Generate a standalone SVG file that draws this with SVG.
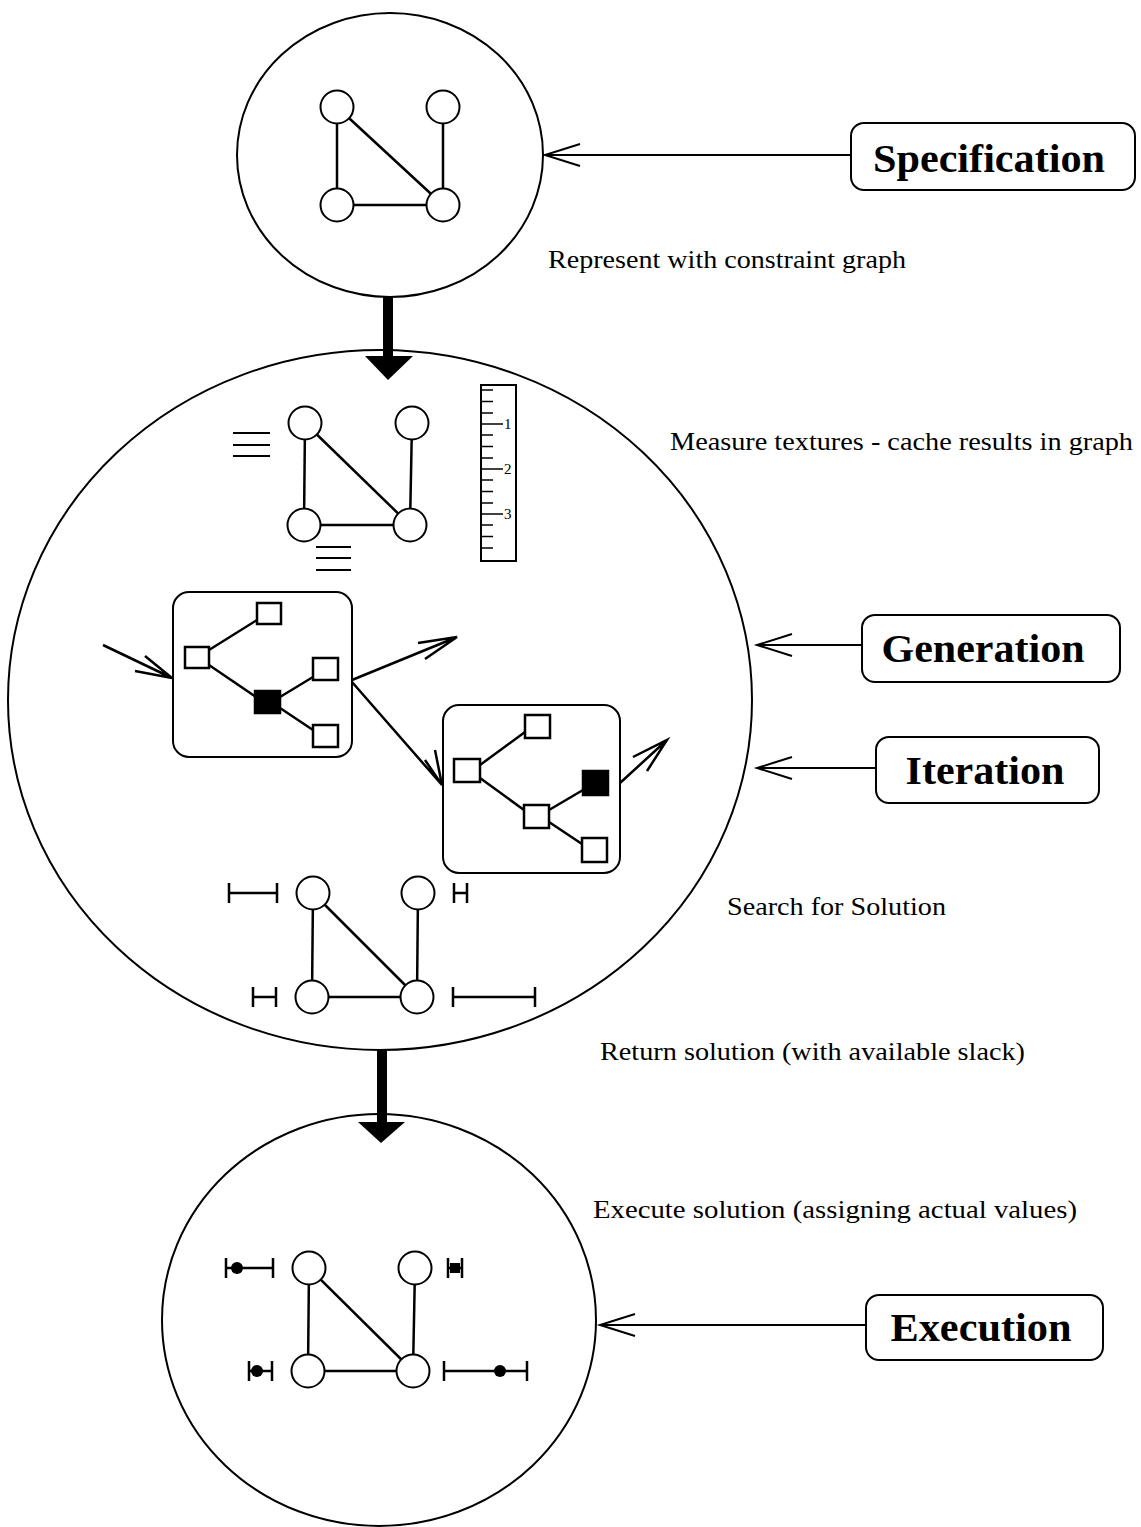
<svg xmlns="http://www.w3.org/2000/svg" width="1141" height="1527" viewBox="0 0 1141 1527">
<style>
.stroke{fill:none;stroke:#000;stroke-width:2}
.node{fill:#fff;stroke:#000;stroke-width:2}
.sq{fill:#fff;stroke:#000;stroke-width:2.5}
.fsq{fill:#000;stroke:#000;stroke-width:2.5}
.edge{stroke:#000;stroke-width:2.5;fill:none}
.lbl{font-family:"Liberation Serif","Times New Roman",serif;font-size:26px;fill:#000}
.big{font-family:"Liberation Serif","Times New Roman",serif;font-size:41px;font-weight:bold;fill:#000}
.box{fill:#fff;stroke:#000;stroke-width:2}
.bar{stroke:#000;stroke-width:2.5;fill:none}
.tick{stroke:#000;stroke-width:1.5}
</style>
<rect width="1141" height="1527" fill="#fff"/>

<!-- big stage circles -->
<g id="stage-spec"><ellipse class="stroke" cx="390" cy="155" rx="153" ry="142"/></g>
<g id="stage-search"><ellipse class="stroke" cx="380" cy="700" rx="372" ry="350"/></g>
<g id="stage-exec"><ellipse class="stroke" cx="379" cy="1320" rx="217" ry="206"/></g>

<!-- top constraint graph -->
<g id="graph-spec">
<line class="edge" x1="337" y1="107" x2="337" y2="205"/>
<line class="edge" x1="337" y1="107" x2="443" y2="205"/>
<line class="edge" x1="443" y1="107" x2="443" y2="205"/>
<line class="edge" x1="337" y1="205" x2="443" y2="205"/>
<circle class="node" cx="337" cy="107" r="16.5"/>
<circle class="node" cx="443" cy="107" r="16.5"/>
<circle class="node" cx="337" cy="205" r="16.5"/>
<circle class="node" cx="443" cy="205" r="16.5"/>
</g>

<!-- texture graph -->
<g id="graph-texture">
<line class="edge" x1="305" y1="423" x2="304" y2="525"/>
<line class="edge" x1="305" y1="423" x2="410" y2="525"/>
<line class="edge" x1="412" y1="423" x2="410" y2="525"/>
<line class="edge" x1="304" y1="525" x2="410" y2="525"/>
<circle class="node" cx="305" cy="423" r="16.5"/>
<circle class="node" cx="412" cy="423" r="16.5"/>
<circle class="node" cx="304" cy="525" r="16.5"/>
<circle class="node" cx="410" cy="525" r="16.5"/>
<g stroke="#000" stroke-width="2">
<line x1="233" y1="433" x2="270" y2="433"/>
<line x1="233" y1="445" x2="270" y2="445"/>
<line x1="233" y1="456" x2="270" y2="456"/>
<line x1="316" y1="547" x2="351" y2="547"/>
<line x1="316" y1="558" x2="351" y2="558"/>
<line x1="316" y1="570" x2="351" y2="570"/>
</g>
</g>

<!-- ruler -->
<g id="ruler">
<rect x="481" y="385" width="35" height="176" fill="#fff" stroke="#000" stroke-width="2"/>
<g class="tick">
<line x1="481" y1="390" x2="493" y2="390"/>
<line x1="481" y1="401.5" x2="493" y2="401.5"/>
<line x1="481" y1="413" x2="493" y2="413"/>
<line x1="481" y1="424" x2="503" y2="424"/>
<line x1="481" y1="435" x2="493" y2="435"/>
<line x1="481" y1="446.5" x2="493" y2="446.5"/>
<line x1="481" y1="458" x2="493" y2="458"/>
<line x1="481" y1="469" x2="503" y2="469"/>
<line x1="481" y1="480" x2="493" y2="480"/>
<line x1="481" y1="491.5" x2="493" y2="491.5"/>
<line x1="481" y1="503" x2="493" y2="503"/>
<line x1="481" y1="514" x2="503" y2="514"/>
<line x1="481" y1="525" x2="493" y2="525"/>
<line x1="481" y1="536.5" x2="493" y2="536.5"/>
<line x1="481" y1="548" x2="493" y2="548"/>
</g>
<g font-family="Liberation Serif, serif" font-size="15" fill="#000">
<text x="504" y="429">1</text>
<text x="504" y="474">2</text>
<text x="504" y="519">3</text>
</g>
</g>

<!-- generation box 1 -->
<g id="search-tree-1">
<rect class="box" x="173" y="592" width="179" height="165" rx="16"/>
<line class="edge" x1="209" y1="650" x2="257" y2="620"/>
<line class="edge" x1="209" y1="665" x2="256" y2="697"/>
<line class="edge" x1="280" y1="697" x2="313" y2="677"/>
<line class="edge" x1="280" y1="708" x2="313" y2="730"/>
<rect class="sq" x="257" y="603" width="24" height="21"/>
<rect class="sq" x="185" y="647" width="24" height="21"/>
<rect class="sq" x="313" y="658" width="25" height="22"/>
<rect class="fsq" x="255" y="691" width="25" height="22"/>
<rect class="sq" x="313" y="725" width="25" height="22"/>
</g>

<!-- generation box 2 -->
<g id="search-tree-2">
<rect class="box" x="443" y="705" width="177" height="168" rx="16"/>
<line class="edge" x1="480" y1="765" x2="525" y2="732"/>
<line class="edge" x1="480" y1="778" x2="524" y2="810"/>
<line class="edge" x1="549" y1="810" x2="583" y2="790"/>
<line class="edge" x1="549" y1="822" x2="582" y2="844"/>
<rect class="sq" x="525" y="715" width="25" height="23"/>
<rect class="sq" x="454" y="759" width="26" height="23"/>
<rect class="fsq" x="583" y="771" width="25" height="24"/>
<rect class="sq" x="524" y="805" width="25" height="23"/>
<rect class="sq" x="582" y="838" width="25" height="24"/>
</g>

<!-- solution graph -->
<g id="graph-solution">
<line class="edge" x1="313" y1="893" x2="312" y2="997"/>
<line class="edge" x1="313" y1="893" x2="417" y2="997"/>
<line class="edge" x1="418" y1="893" x2="417" y2="997"/>
<line class="edge" x1="312" y1="997" x2="417" y2="997"/>
<circle class="node" cx="313" cy="893" r="16.5"/>
<circle class="node" cx="418" cy="893" r="16.5"/>
<circle class="node" cx="312" cy="997" r="16.5"/>
<circle class="node" cx="417" cy="997" r="16.5"/>
<path class="bar" d="M229 883V903M229 893H277M277 883V903"/>
<path class="bar" d="M454 883V903M454 893H467M467 883V903"/>
<path class="bar" d="M253 987V1007M253 997H276M276 987V1007"/>
<path class="bar" d="M453 987V1007M453 997H535M535 987V1007"/>
</g>

<!-- execution graph -->
<g id="graph-execution">
<line class="edge" x1="309" y1="1268" x2="308" y2="1371"/>
<line class="edge" x1="309" y1="1268" x2="413" y2="1371"/>
<line class="edge" x1="415" y1="1268" x2="413" y2="1371"/>
<line class="edge" x1="308" y1="1371" x2="413" y2="1371"/>
<circle class="node" cx="309" cy="1268" r="16.5"/>
<circle class="node" cx="415" cy="1268" r="16.5"/>
<circle class="node" cx="308" cy="1371" r="16.5"/>
<circle class="node" cx="413" cy="1371" r="16.5"/>
<path class="bar" d="M226 1258V1278M226 1268H273M273 1258V1278"/>
<circle cx="237" cy="1268" r="6"/>
<path class="bar" d="M448 1258V1278M448 1268H462M462 1258V1278"/>
<rect x="450" y="1263" width="10" height="10"/>
<path class="bar" d="M249 1361V1381M249 1371H272M272 1361V1381"/>
<circle cx="257" cy="1371" r="6"/>
<path class="bar" d="M444 1361V1381M444 1371H527M527 1361V1381"/>
<circle cx="500" cy="1371" r="6"/>
</g>

<!-- label boxes -->
<g id="spec"><rect class="box" x="851" y="123" width="284" height="67" rx="13"/><text class="big" x="989" y="172" text-anchor="middle" textLength="232" lengthAdjust="spacingAndGlyphs">Specification</text></g>
<g id="generation"><rect class="box" x="862" y="615" width="258" height="67" rx="13"/><text class="big" x="983" y="662" text-anchor="middle" textLength="203" lengthAdjust="spacingAndGlyphs">Generation</text></g>
<g id="iteration"><rect class="box" x="876" y="737" width="223" height="66" rx="13"/><text class="big" x="985" y="784" text-anchor="middle" textLength="159" lengthAdjust="spacingAndGlyphs">Iteration</text></g>
<g id="execution"><rect class="box" x="866" y="1295" width="237" height="65" rx="13"/><text class="big" x="981" y="1341" text-anchor="middle" textLength="181" lengthAdjust="spacingAndGlyphs">Execution</text></g>

<!-- connectors -->
<g id="connectors" fill="none" stroke="#000" stroke-width="2">
<path d="M851 155H545M580 144L545 155L580 166"/>
<path d="M862 645H757M792 634L757 645L792 656"/>
<path d="M876 768H757M792 757L757 768L792 779"/>
<path d="M866 1325H600M635 1314L600 1325L635 1336"/>
<path d="M103 645L172 678M145 656L172 678L135 671" stroke-width="2.5"/>
<path d="M352 680L457 637M418 643L457 637L425 659" stroke-width="2.5"/>
<path d="M352 682L442 785M435 750L442 785L425 760" stroke-width="2.5"/>
<path d="M620 783L667 740M633 757L667 740L647 771" stroke-width="2.5"/>
<g fill="#000" stroke="none">
<rect x="383" y="297" width="10" height="62"/>
<polygon points="365,356 413,356 388,380"/>
<rect x="377" y="1050" width="10" height="74"/>
<polygon points="358,1122 405,1122 381,1143"/>
</g>
</g>

<!-- annotations -->
<g id="annotations">
<text class="lbl" x="548" y="268" textLength="358" lengthAdjust="spacingAndGlyphs">Represent with constraint graph</text>
<text class="lbl" x="670" y="450" textLength="463" lengthAdjust="spacingAndGlyphs">Measure textures - cache results in graph</text>
<text class="lbl" x="727" y="915" textLength="219" lengthAdjust="spacingAndGlyphs">Search for Solution</text>
<text class="lbl" x="600" y="1060" textLength="425" lengthAdjust="spacingAndGlyphs">Return solution (with available slack)</text>
<text class="lbl" x="593" y="1218" textLength="484" lengthAdjust="spacingAndGlyphs">Execute solution (assigning actual values)</text>
</g>
</svg>
